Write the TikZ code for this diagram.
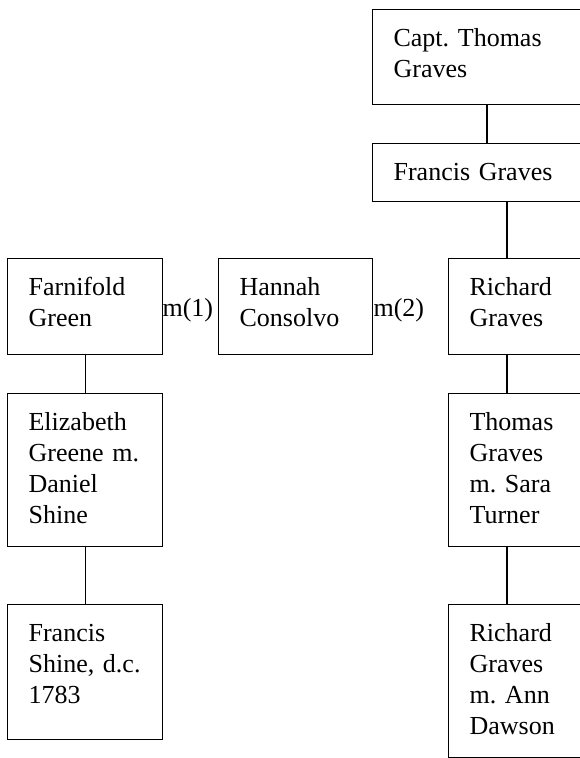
\documentclass[tikz,border=0pt]{standalone}
\usepackage{fontspec}
\setmainfont{Liberation Serif}
\frenchspacing
\begin{document}
\begin{tikzpicture}[x=1pt,y=-1pt,line width=1.2pt,
  person/.style={draw, anchor=north west, align=left, inner xsep=21pt, inner ysep=0pt,
    text height=37pt, font=\fontsize{26}{31}\selectfont\frenchspacing},
  mlabel/.style={anchor=base west, inner sep=0pt, font=\fontsize{26}{31}\selectfont}]
\useasboundingbox (0,0) rectangle (580,758);
\clip (0,0) rectangle (580,758);
% Graves line
\node[person, text width=188pt, text depth=58pt] (cap) at (372,9) {Capt. Thomas\\Graves};
\node[person, text width=188pt, text depth=21pt] (fg) at (372,143) {Francis Graves};
% marriages row
\node[person, text width=113pt, text depth=59pt] (fa) at (7,258) {Farnifold\\Green};
\node[person, text width=112pt, text depth=59pt] (ha) at (218,258) {Hannah\\Consolvo};
\node[person, text width=110pt, text depth=59pt] (rg) at (448,258) {Richard\\Graves};
\node[mlabel] (m1) at (162,316) {m(1)};
\node[mlabel] (m2) at (373,316) {m(2)};
% children
\node[person, text width=113pt, text depth=116pt] (el) at (7,393) {Elizabeth\\Greene m.\\Daniel\\Shine};
\node[person, text width=110pt, text depth=116pt] (tg) at (448,393) {Thomas\\Graves\\m. Sara\\Turner};
\node[person, text width=113pt, text depth=98pt] (fs) at (7,604) {Francis\\Shine, d.c.\\1783};
\node[person, text width=110pt, text depth=116pt] (rd) at (448,604) {Richard\\Graves\\m. Ann\\Dawson};
\draw (cap.south -| 487,0) -- (fg.north -| 487,0);
\draw (fg.south -| 507,0) -- (rg.north -| 507,0);
\draw (rg.south -| 507,0) -- (tg.north -| 507,0);
\draw (tg.south -| 507,0) -- (rd.north -| 507,0);
\draw (fa.south) -- (el.north);
\draw (el.south) -- (fs.north);
\end{tikzpicture}
\end{document}
